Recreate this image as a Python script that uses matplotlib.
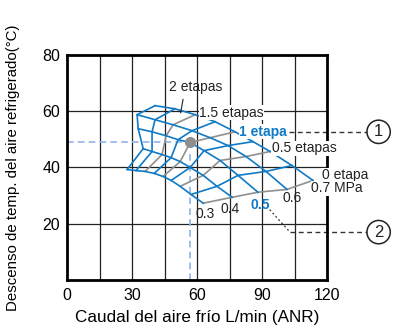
import matplotlib.pyplot as plt

plt.rcParams['font.family'] = ['Liberation Sans', 'DejaVu Sans']

# stage levels (etapas), the line colour used for each, and supply pressures (MPa)
stages = [0, 0.25, 0.5, 0.75, 1, 1.25, 1.5, 1.75, 2]
stage_colors = ['g', 'b', 'g', 'b', 'g', 'b', 'g', 'b', 'b']
pressures = [0.3, 0.4, 0.5, 0.6, 0.7]

# cold air flow L/min (ANR) and temperature drop (deg C) along each pressure line, stage 0 -> 2
flow_03 = [62.8, 57.2, 52.2, 48.0, 44.3, 40.2, 36.0, 31.8, 27.7]
drop_03 = [27.3, 30.4, 33.3, 35.4, 36.8, 37.9, 38.6, 38.9, 39.3]
flow_04 = [76.2, 69.2, 62.8, 56.8, 52.2, 48.0, 43.8, 39.2, 35.1]
drop_04 = [29.4, 33.3, 37.2, 40.0, 42.1, 43.5, 44.6, 45.7, 46.7]
flow_05 = [88.1, 78.9, 70.6, 63.2, 56.8, 51.2, 45.7, 39.2, 32.8]
drop_05 = [31.2, 37.2, 42.5, 46.0, 48.9, 49.9, 51.3, 52.7, 53.8]
flow_06 = [101.5, 91.8, 82.6, 74.3, 66.0, 57.7, 48.9, 40.6, 32.3]
drop_06 = [32.2, 38.6, 43.9, 47.8, 50.6, 53.1, 55.2, 57.0, 58.8]
flow_07 = [113.5, 103.8, 93.7, 85.8, 77.5, 68.3, 59.1, 49.8, 40.6]
drop_07 = [35.4, 40.7, 45.7, 49.2, 52.7, 56.3, 58.8, 60.9, 62.0]

flows = [flow_03, flow_04, flow_05, flow_06, flow_07]
drops = [drop_03, drop_04, drop_05, drop_06, drop_07]

# example reading point (1 etapa, 0.5 MPa)
ex_flow = 56.8
ex_drop = 48.9

blue = '#0f7ac6'
gray = '#8f8f8f'
dark = '#222222'

fig = plt.figure(figsize=(3.95, 3.36), dpi=100)
ax = fig.add_axes([0.170, 0.167, 0.658, 0.669])
ax.set_xlim(0, 120)
ax.set_ylim(0, 80)

for x in range(15, 120, 15):
    ax.axvline(x, color=dark, lw=0.9, zorder=1)
for y in (20, 40, 60):
    ax.axhline(y, color=dark, lw=0.9, zorder=1)

# reference dashed lines
ax.plot([0, ex_flow], [ex_drop, ex_drop], color='#8fb3e6', lw=1.2, ls=(0, (4, 2.5)), zorder=2)
ax.plot([ex_flow, ex_flow], [0, ex_drop - 4], color='#8fb3e6', lw=1.2, ls=(0, (4, 2.5)), zorder=2)

# stage lines
for k in range(len(stages)):
    c = gray if stage_colors[k] == 'g' else blue
    ax.plot([f[k] for f in flows], [d[k] for d in drops], color=c, lw=1.2, zorder=3)
# pressure lines
for j in range(len(pressures)):
    ax.plot(flows[j], drops[j], color=blue, lw=1.2, zorder=3)

ax.plot(ex_flow, ex_drop, 'o', color=gray, ms=7, zorder=5)

for s in ax.spines.values():
    s.set_linewidth(2)
    s.set_zorder(4)

ax.set_xticks([0, 30, 60, 90, 120])
ax.set_yticks([20, 40, 60, 80])
ax.tick_params(length=0, labelsize=11.5)
ax.tick_params(axis='x', pad=6)
ax.tick_params(axis='y', pad=5)
ax.set_xlabel("Caudal del aire frío L/min (ANR)", fontsize=12.3, labelpad=5)
ax.set_ylabel("Descenso de temp. del aire refrigerado(°C)", fontsize=10.8, labelpad=16)

wb = dict(facecolor='white', edgecolor='none', pad=0.3)
fs = 10
ax.text(59.5, 68.7, "2 etapas", fontsize=fs, ha='center', va='center', color=dark)
ax.plot([53.5, 52.4], [64.2, 59.5], color=dark, lw=0.8, zorder=4)
ax.text(61.0, 59.5, "1.5 etapas", fontsize=fs, ha='left', va='center', color=dark, bbox=wb, zorder=6)
ax.text(79.5, 52.7, "1 etapa", fontsize=fs, ha='left', va='center', color=blue,
        fontweight='bold', bbox=wb, zorder=6)
ax.text(94.5, 46.8, "0.5 etapas", fontsize=fs, ha='left', va='center', color=dark, bbox=wb, zorder=6)
ax.text(117.5, 37.3, "0 etapa", fontsize=fs, ha='left', va='center', color=dark,
        bbox=wb, zorder=6, clip_on=False)
ax.text(112.8, 32.6, "0.7 MPa", fontsize=fs, ha='left', va='center', color=dark,
        bbox=wb, zorder=6, clip_on=False)
ax.text(63.7, 23.4, "0.3", fontsize=fs, ha='center', va='center', color=dark)
ax.text(75.2, 25.3, "0.4", fontsize=fs, ha='center', va='center', color=dark)
ax.text(89.1, 26.6, "0.5", fontsize=fs, ha='center', va='center', color=blue, fontweight='bold')
ax.text(103.8, 29.0, "0.6", fontsize=fs, ha='center', va='center', color=dark)

# callouts to the right
ax.plot([102.5, 138.5], [52.7, 52.7], color='#333333', lw=1, ls=(0, (3.5, 2.5)), clip_on=False, zorder=4)
ax.plot([93.5, 102.9], [25.0, 17.0], color='#333333', lw=0.9, ls=(0, (1.5, 2)), clip_on=False, zorder=4)
ax.plot([102.9, 138.5], [17.0, 17.0], color='#333333', lw=1, ls=(0, (3.5, 2.5)), clip_on=False, zorder=4)
for cy, num in ((52.7, "1"), (17.0, "2")):
    ax.text(143.8, cy, num, fontsize=12, ha='center', va='center', color=dark, clip_on=False,
            bbox=dict(boxstyle='circle,pad=0.25', facecolor='white', edgecolor=dark, lw=1.1))

fig.savefig('out.png', dpi=100)
